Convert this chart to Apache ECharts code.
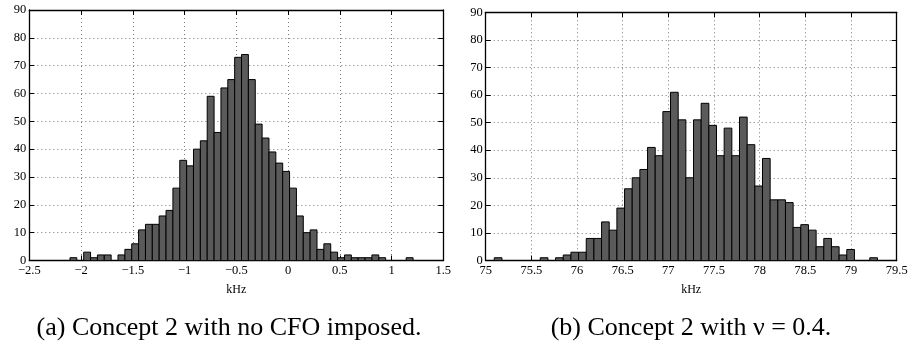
<!DOCTYPE html>
<html>
<head>
<meta charset="utf-8">
<script src="https://cdn.jsdelivr.net/npm/echarts@6/dist/echarts.min.js"></script>
<style>
  html, body { margin: 0; padding: 0; background: #fff; }
  #chart { width: 912px; height: 342px; }
</style>
</head>
<body>
<div id="chart"></div>
<script>
// Histogram (a): CFO estimate, no CFO imposed — 50 bins
const binStartA = -2.107;
const binWidthA = 0.0663;
const countsA = [
  1, 0, 3, 1, 2, 2, 0, 2, 4, 6,
  11, 13, 13, 16, 18, 26, 36, 34, 40, 43,
  59, 46, 62, 65, 73, 74, 65, 49, 44, 39,
  35, 32, 26, 16, 10, 11, 4, 6, 3, 1,
  2, 1, 1, 1, 2, 1, 0, 0, 0, 1
];

// Histogram (b): CFO estimate with nu = 0.4 — 50 bins
const binStartB = 75.094;
const binWidthB = 0.0839;
const countsB = [
  1, 0, 0, 0, 0, 0, 1, 0, 1, 2,
  3, 3, 8, 8, 14, 11, 19, 26, 30, 33,
  41, 38, 54, 61, 51, 30, 51, 57, 49, 38,
  48, 38, 52, 42, 27, 37, 22, 22, 21, 12,
  13, 11, 5, 8, 5, 2, 4, 0, 0, 1
];

// Axis ranges
const xRangeA = { min: -2.5, max: 1.5, interval: 0.5 };
const xRangeB = { min: 75, max: 79.5, interval: 0.5 };
const yRange = { min: 0, max: 90, interval: 10 };

const axisName = 'kHz';
const captionA = '(a) Concept 2 with no CFO imposed.';
const captionB = '(b) Concept 2 with \u03bd = 0.4.';

// [left edge, right edge, count] per bin
function binsFrom(start, width, counts) {
  return counts.map((c, i) => [start + i * width, start + (i + 1) * width, c]);
}

const serif = '"Liberation Serif", "DejaVu Serif", serif';
const fmt = v => String(+v.toFixed(2)).replace('-', '\u2212');

function renderBin(params, api) {
  const x0 = api.value(0), x1 = api.value(1), c = api.value(2);
  const pTop = api.coord([x0, c]);
  const pBot = api.coord([x1, 0]);
  return {
    type: 'rect',
    shape: { x: pTop[0], y: pTop[1], width: pBot[0] - pTop[0], height: pBot[1] - pTop[1] },
    style: { fill: '#5a5a5a', stroke: '#000', lineWidth: 1 }
  };
}

const frameLine = { show: true, onZero: false, lineStyle: { color: '#000', width: 1.3 } };
const innerTick = { show: true, inside: true, length: 5, lineStyle: { color: '#000', width: 1 } };
const dotted = { show: true, lineStyle: { color: '#777', width: 1, type: [1, 3] } };

function xAxes(range, gridIndex) {
  return [
    {
      type: 'value', gridIndex, position: 'bottom',
      min: range.min, max: range.max, interval: range.interval,
      axisLine: frameLine, axisTick: innerTick, splitLine: dotted,
      axisLabel: { fontFamily: serif, fontSize: 12.5, color: '#000', margin: 4,
                   showMinLabel: true, showMaxLabel: true, formatter: fmt },
      name: axisName, nameLocation: 'middle', nameGap: 23,
      nameTextStyle: { fontFamily: serif, fontSize: 12, color: '#000' }
    },
    {
      type: 'value', gridIndex, position: 'top',
      min: range.min, max: range.max, interval: range.interval,
      axisLine: frameLine, axisTick: innerTick,
      axisLabel: { show: false }, splitLine: { show: false }
    }
  ];
}

function yAxes(gridIndex) {
  return [
    {
      type: 'value', gridIndex, position: 'left',
      min: yRange.min, max: yRange.max, interval: yRange.interval,
      axisLine: frameLine, axisTick: innerTick, splitLine: dotted,
      axisLabel: { fontFamily: serif, fontSize: 12.5, color: '#000', margin: 3 }
    },
    {
      type: 'value', gridIndex, position: 'right',
      min: yRange.min, max: yRange.max, interval: yRange.interval,
      axisLine: frameLine, axisTick: innerTick,
      axisLabel: { show: false }, splitLine: { show: false }
    }
  ];
}

const chart = echarts.init(document.getElementById('chart'), null, { renderer: 'canvas' });

chart.setOption({
  animation: false,
  backgroundColor: '#fff',
  grid: [
    { left: 29.3, top: 10, width: 414, height: 250.5 },
    { left: 485.7, top: 12.3, width: 411, height: 248.2 }
  ],
  xAxis: [...xAxes(xRangeA, 0), ...xAxes(xRangeB, 1)],
  yAxis: [...yAxes(0), ...yAxes(1)],
  series: [
    {
      type: 'custom', xAxisIndex: 0, yAxisIndex: 0,
      renderItem: renderBin, encode: { x: [0, 1], y: 2 },
      data: binsFrom(binStartA, binWidthA, countsA), clip: true
    },
    {
      type: 'custom', xAxisIndex: 2, yAxisIndex: 2,
      renderItem: renderBin, encode: { x: [0, 1], y: 2 },
      data: binsFrom(binStartB, binWidthB, countsB), clip: true
    }
  ],
  graphic: [
    {
      type: 'text', x: 229, y: 328,
      style: { text: captionA, font: '26px ' + serif, fill: '#000',
               align: 'center', verticalAlign: 'middle' }
    },
    {
      type: 'text', x: 691, y: 328,
      style: { text: captionB, font: '26px ' + serif, fill: '#000',
               align: 'center', verticalAlign: 'middle' }
    }
  ]
});
</script>
</body>
</html>
